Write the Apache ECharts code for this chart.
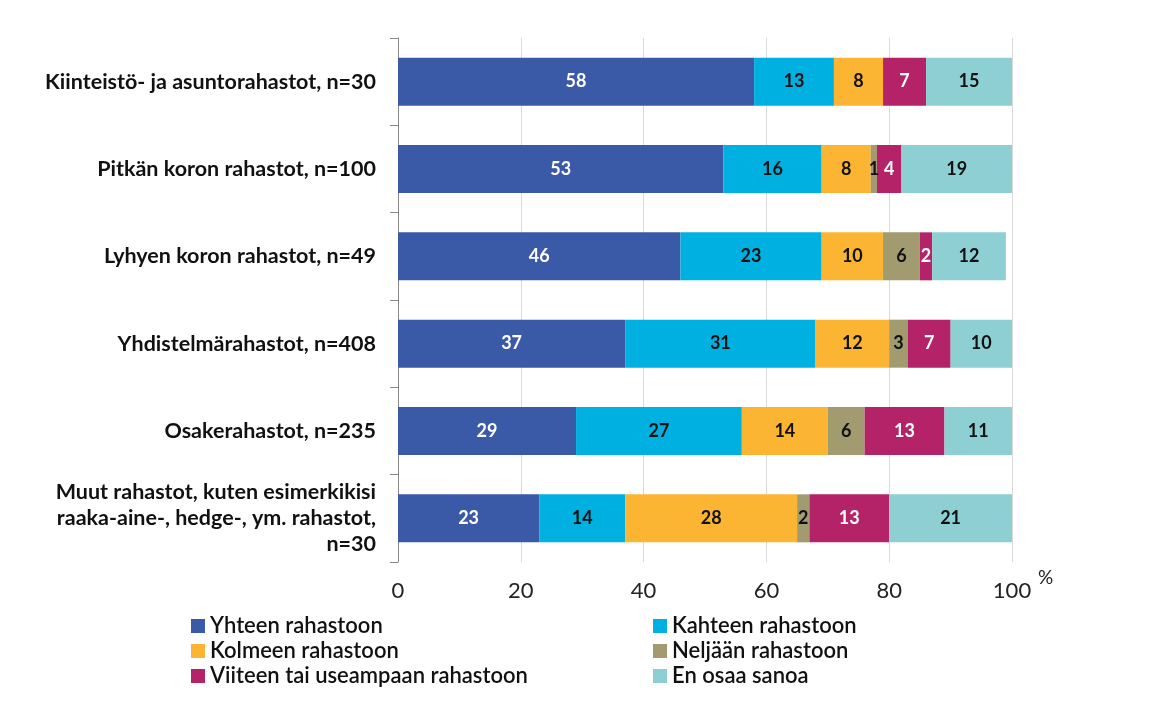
<!DOCTYPE html>
<html><head><meta charset="utf-8">
<script src="https://cdn.jsdelivr.net/npm/echarts@6/dist/echarts.min.js"></script>
<style>html,body{margin:0;padding:0;background:#fff}#c{width:1170px;height:709px}</style>
</head><body><div id="c"></div>
<script>
const categories = [
  'Kiinteistö- ja asuntorahastot, n=30',
  'Pitkän koron rahastot, n=100',
  'Lyhyen koron rahastot, n=49',
  'Yhdistelmärahastot, n=408',
  'Osakerahastot, n=235',
  'Muut rahastot, kuten esimerkikisi\nraaka-aine-, hedge-, ym. rahastot,\nn=30'
];
const seriesNames = ['Yhteen rahastoon','Kahteen rahastoon','Kolmeen rahastoon','Neljään rahastoon','Viiteen tai useampaan rahastoon','En osaa sanoa'];
const yhteen   = [58, 53, 46, 37, 29, 23];
const kahteen  = [13, 16, 23, 31, 27, 14];
const kolmeen  = [8, 8, 10, 12, 14, 28];
const neljaan  = [0, 1, 6, 3, 6, 2];
const viiteen  = [7, 4, 2, 7, 13, 13];
const enOsaa   = [15, 19, 12, 10, 11, 21];
const xTicks = [0, 20, 40, 60, 80, 100];

const values = [yhteen, kahteen, kolmeen, neljaan, viiteen, enOsaa];
const colors = ['#3A5AA8','#00B0E0','#FBB533','#A19B6F','#B42368','#8ECFD4'];
const labelColors = ['#ffffff','#111111','#111111','#111111','#ffffff','#111111'];
const FONT = 'Lato';

const chart = echarts.init(document.getElementById('c'));
const series = seriesNames.map((n,i)=>({
  name:n, type:'bar', stack:'a', barWidth:48, clip:true,
  itemStyle:{color:colors[i]},
  label:{show:true, position:'inside', color:labelColors[i], fontFamily:FONT, fontWeight:'bold', fontSize:18,
    formatter:p=>p.value? String(p.value):''},
  data: values[i]
}));
const legendCommon = {orient:'vertical', itemWidth:14, itemHeight:14, itemGap:3, icon:'rect', height:90,
  textStyle:{fontFamily:FONT, fontSize:22, color:'#111', fontWeight:'600'}};
chart.setOption({
  animation:false,
  grid:{left:398, right:158, top:38, bottom:147, containLabel:false},
  xAxis:{type:'value', min:0, max:100, interval:20,
    axisLine:{show:false}, axisTick:{show:false},
    splitLine:{show:true, lineStyle:{color:'#D9D9D9', width:1}},
    axisLabel:{fontFamily:FONT, fontSize:22, color:'#222', margin:18,
      formatter:v=>xTicks.includes(v)?String(v):''},
    name:'%', nameLocation:'end', nameGap:26,
    nameTextStyle:{fontFamily:FONT, fontSize:19, color:'#222', verticalAlign:'top', padding:[6,0,0,0]}
  },
  yAxis:{type:'category', inverse:true, data:categories,
    axisLine:{show:true, lineStyle:{color:'#888'}},
    axisTick:{show:true, length:8, lineStyle:{color:'#888'}},
    axisLabel:{fontFamily:FONT, fontWeight:'bold', fontSize:21.5, color:'#111', margin:22, lineHeight:26, align:'right'}
  },
  legend:[
    Object.assign({left:186, top:610, data:[seriesNames[0],seriesNames[2],seriesNames[4]]}, legendCommon),
    Object.assign({left:648, top:610, data:[seriesNames[1],seriesNames[3],seriesNames[5]]}, legendCommon)
  ],
  series
});
</script></body></html>
